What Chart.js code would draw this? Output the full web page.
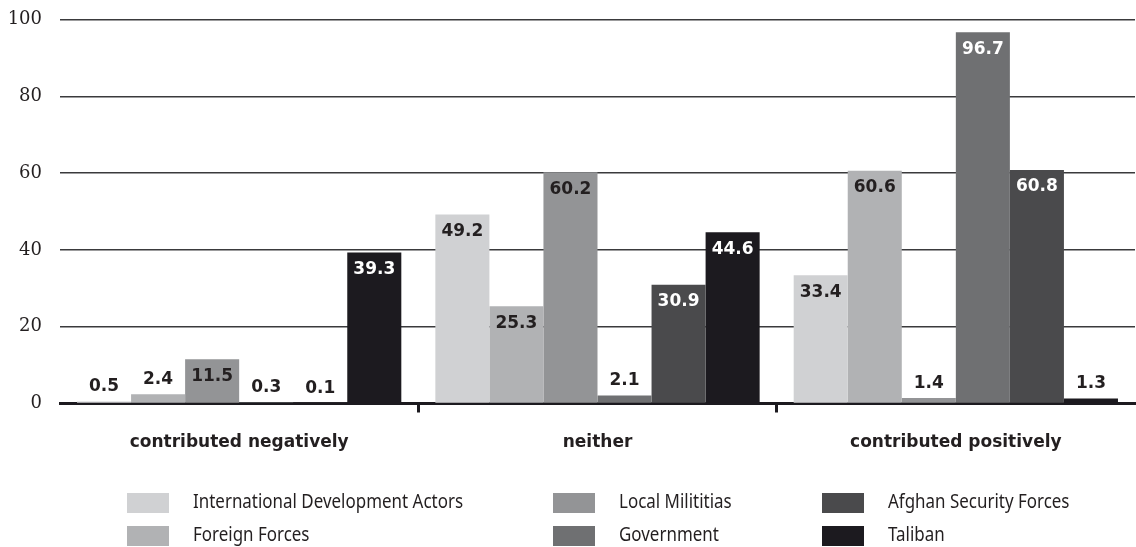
<!DOCTYPE html>
<html><head><meta charset="utf-8">
<script src="https://cdn.jsdelivr.net/npm/chart.js@4.4.0/dist/chart.umd.min.js"></script>
<style>html,body{margin:0;padding:0;background:#fff}#wrap{width:1136px;height:547px;position:relative}</style>
</head><body><div id="wrap"><canvas id="c"></canvas></div>
<script>
const categories = ['contributed negatively', 'neither', 'contributed positively'];
const seriesNames = ['International Development Actors', 'Foreign Forces', 'Local Milititias', 'Government', 'Afghan Security Forces', 'Taliban'];
const intlDevelopment = [0.5, 49.2, 33.4];
const foreignForces = [2.4, 25.3, 60.6];
const localMilitias = [11.5, 60.2, 1.4];
const government = [0.3, 2.1, 96.7];
const afghanSecurity = [0.1, 30.9, 60.8];
const taliban = [39.3, 44.6, 1.3];
const yTicks = [0, 20, 40, 60, 80, 100];
const seriesValues = [intlDevelopment, foreignForces, localMilitias, government, afghanSecurity, taliban];
const colors = ['#d0d1d3', '#b1b2b4', '#939496', '#6f7072', '#4a4a4c', '#1c1a1f'];
const TEXT = '#231f20';

const valueLabels = {
  id: 'valueLabels',
  afterDatasetsDraw(chart) {
    const ctx = chart.ctx;
    ctx.save();
    ctx.font = 'bold 17px "DejaVu Sans"';
    ctx.textAlign = 'center';
    ctx.textBaseline = 'middle';
    chart.data.datasets.forEach((ds, di) => {
      const meta = chart.getDatasetMeta(di);
      meta.data.forEach((bar, i) => {
        const v = ds.data[i];
        const inside = v >= 10;
        const y = inside ? bar.y + 17 : bar.y - 15;
        ctx.fillStyle = (inside && di >= 3) ? '#ffffff' : TEXT;
        ctx.fillText(v.toFixed(1), bar.x, y);
      });
    });
    ctx.restore();
  }
};

const gridLegend = {
  id: 'gridLegend',
  afterDraw(chart) {
    const ctx = chart.ctx;
    const colX = [127, 553, 822];
    const rowY = [493, 526];
    ctx.save();
    ctx.font = '19px "Noto Sans"';
    const sx = 270 / ctx.measureText('International Development Actors').width;
    ctx.textBaseline = 'middle';
    ctx.textAlign = 'left';
    chart.data.datasets.forEach((ds, i) => {
      const col = Math.floor(i / 2), row = i % 2;
      const x = colX[col], y = rowY[row];
      ctx.fillStyle = ds.backgroundColor;
      ctx.fillRect(x, y, 42, 20);
      ctx.fillStyle = TEXT;
      ctx.save();
      ctx.translate(x + 66, y + 10);
      ctx.scale(sx, 1);
      ctx.fillText(ds.label, 0, 0);
      ctx.restore();
    });
    ctx.restore();
  }
};

new Chart(document.getElementById('c'), {
  type: 'bar',
  data: {
    labels: categories,
    datasets: seriesNames.map((name, i) => ({
      label: name,
      data: seriesValues[i],
      backgroundColor: colors[i],
      borderWidth: 0,
      barPercentage: 1.0,
      categoryPercentage: 0.905
    }))
  },
  options: {
    responsive: true,
    maintainAspectRatio: false,
    animation: false,
    devicePixelRatio: 1,
    layout: { padding: { top: 19.5, right: 1, left: 0, bottom: 93.5 } },
    plugins: { legend: { display: false }, tooltip: { enabled: false } },
    scales: {
      x: {
        offset: true,
        border: { display: true, width: 3, color: '#1c1a1f' },
        grid: {
          offset: true,
          drawOnChartArea: false,
          drawTicks: true,
          tickLength: 9,
          lineWidth: 3,
          color: (c) => (c.type === 'tick' && (c.index === 1 || c.index === 2)) ? '#1c1a1f' : 'rgba(0,0,0,0)'
        },
        ticks: { color: TEXT, font: { family: 'DejaVu Sans', size: 17, weight: 'bold' }, padding: 20, maxRotation: 0 },
        afterFit(scale) { scale.height = 50; scale.paddingLeft = 0; scale.paddingRight = 0; }
      },
      y: {
        min: 0, max: 100,
        afterBuildTicks(scale) { scale.ticks = yTicks.map(v => ({ value: v })); },
        border: { display: false },
        grid: { color: '#3a3a3c', lineWidth: 1.5, drawTicks: false },
        ticks: { color: TEXT, font: { family: 'DejaVu Serif', size: 18 }, padding: 18 },
        afterFit(scale) { scale.width = 60; scale.paddingTop = 0; scale.paddingBottom = 0; }
      }
    }
  },
  plugins: [valueLabels, gridLegend]
});
</script>
</body></html>
